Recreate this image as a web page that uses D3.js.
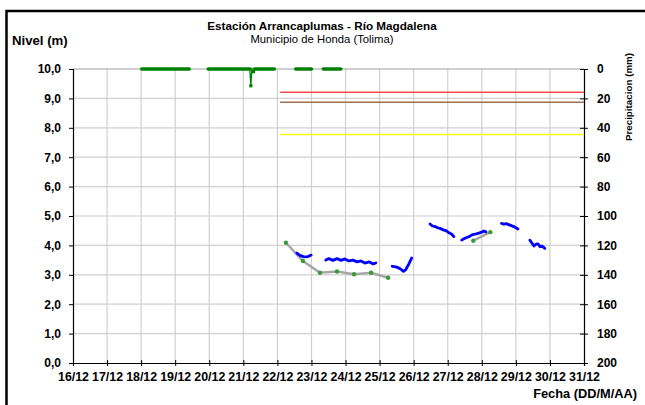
<!DOCTYPE html>
<html>
<head>
<meta charset="utf-8">
<script src="https://cdn.jsdelivr.net/npm/d3@7"></script>
<style>
  body { margin: 0; background: #fff; }
  text { font-family: "Liberation Sans", Arial, sans-serif; fill: #000; }
</style>
</head>
<body>
<div id="chart"></div>
<script>
// Tick values
var dayTicks = [16, 17, 18, 19, 20, 21, 22, 23, 24, 25, 26, 27, 28, 29, 30, 31];
var levelTicks = [0, 1, 2, 3, 4, 5, 6, 7, 8, 9, 10];
var precipTicks = [0, 20, 40, 60, 80, 100, 120, 140, 160, 180, 200];

// Level (m), automatic station: [day of December, level]
var levelSeg1 = [[22.57, 3.74], [22.66, 3.66], [22.78, 3.61], [22.90, 3.62], [22.99, 3.67]];
var levelSeg2 = [[23.42, 3.50], [23.51, 3.55], [23.63, 3.49], [23.75, 3.55], [23.87, 3.49],
                 [23.98, 3.54], [24.10, 3.47], [24.22, 3.50], [24.34, 3.44], [24.45, 3.47],
                 [24.57, 3.40], [24.69, 3.44], [24.81, 3.37], [24.89, 3.40]];
var levelSeg3 = [[25.37, 3.29], [25.48, 3.27], [25.60, 3.21], [25.70, 3.12], [25.77, 3.18],
                 [25.86, 3.37], [25.94, 3.57]];
var levelSeg4 = [[26.48, 4.73], [26.55, 4.66], [26.63, 4.64], [26.70, 4.60], [26.77, 4.58],
                 [26.89, 4.52], [26.95, 4.50], [27.01, 4.45], [27.12, 4.38], [27.18, 4.30]];
var levelSeg5 = [[27.41, 4.18], [27.48, 4.23], [27.54, 4.26], [27.63, 4.30], [27.71, 4.36],
                 [27.80, 4.38], [27.89, 4.41], [27.98, 4.44], [28.06, 4.49], [28.12, 4.46]];
var levelSeg6 = [[28.58, 4.75], [28.65, 4.72], [28.71, 4.74], [28.83, 4.69], [28.94, 4.64],
                 [29.06, 4.56]];
var levelSeg7 = [[29.41, 4.18], [29.47, 4.08], [29.53, 3.98], [29.59, 4.04], [29.65, 4.05],
                 [29.71, 3.96], [29.77, 3.98], [29.85, 3.90]];
var levelSegments = [levelSeg1, levelSeg2, levelSeg3, levelSeg4, levelSeg5, levelSeg6, levelSeg7];

// Level (m), staff readings
var readingSeg1 = [[22.25, 4.09], [22.75, 3.47], [23.25, 3.07], [23.75, 3.11], [24.25, 3.02],
                   [24.75, 3.07], [25.25, 2.90]];
var readingSeg2 = [[27.75, 4.16], [28.25, 4.45]];
var readingSegments = [readingSeg1, readingSeg2];

// Precipitation (mm)
var precipSeg1 = [[18.02, 0], [19.41, 0]];
var precipSeg2 = [[19.97, 0], [21.19, 0], [21.22, 11.4], [21.25, 0], [21.30, 1.8], [21.33, 0], [21.91, 0]];
var precipSeg3 = [[22.54, 0], [23.00, 0]];
var precipSeg4 = [[23.35, 0], [23.86, 0]];
var precipSegments = [precipSeg1, precipSeg2, precipSeg3, precipSeg4];

// Alert thresholds (m)
var thresholdLevels = [9.21, 8.87, 7.77];
var thresholdNames = ["roja", "naranja", "amarilla"];
var thresholdStart = 22.08;

var svgWidth = 645, svgHeight = 405;
var margin = { top: 69, right: 61, bottom: 42, left: 73 };
var chartWidth = svgWidth - margin.left - margin.right;
var chartHeight = svgHeight - margin.top - margin.bottom;

var svg = d3.select("#chart").append("svg")
  .attr("width", svgWidth)
  .attr("height", svgHeight);

// outer frame
svg.append("rect")
  .attr("x", 6.5).attr("y", 11)
  .attr("width", 660).attr("height", 420)
  .attr("fill", "none").attr("stroke", "#000").attr("stroke-width", 2.5);

var chartGroup = svg.append("g")
  .attr("transform", `translate(${margin.left}, ${margin.top})`);

var xScale = d3.scaleLinear().domain([16, 31]).range([0, chartWidth]);
var yScale = d3.scaleLinear().domain([0, 10]).range([chartHeight, 0]);
var pScale = d3.scaleLinear().domain([0, 200]).range([0, chartHeight]);

// grid
chartGroup.append("g").selectAll("line")
  .data(dayTicks.slice(1, -1)).enter().append("line")
  .attr("x1", d => xScale(d)).attr("x2", d => xScale(d))
  .attr("y1", 0).attr("y2", chartHeight)
  .attr("stroke", "#d0d0d0").attr("stroke-width", 1.2);

chartGroup.append("g").selectAll("line")
  .data(levelTicks.slice(1)).enter().append("line")
  .attr("x1", 0).attr("x2", chartWidth)
  .attr("y1", d => yScale(d)).attr("y2", d => yScale(d))
  .attr("stroke", d => d === 10 ? "#a0a0a0" : "#d0d0d0").attr("stroke-width", 1.2);

// axes
var fmtLevel = d => d.toFixed(1).replace(".", ",");

var leftAxis = chartGroup.append("g")
  .call(d3.axisLeft(yScale).tickValues(levelTicks).tickFormat(fmtLevel).tickSize(4).tickPadding(8));

var rightAxis = chartGroup.append("g")
  .attr("transform", `translate(${chartWidth}, 0)`)
  .call(d3.axisRight(pScale).tickValues(precipTicks).tickSize(4).tickPadding(9));
rightAxis.selectAll(".tick line").attr("x1", -4);

var bottomAxis = chartGroup.append("g")
  .attr("transform", `translate(0, ${chartHeight})`)
  .call(d3.axisBottom(xScale).tickValues(dayTicks).tickFormat(d => d + "/12").tickSize(3).tickPadding(6));
bottomAxis.selectAll(".tick line").attr("y1", -3);

[leftAxis, rightAxis, bottomAxis].forEach(function(ax) {
  ax.select(".domain").attr("stroke", "#000").attr("stroke-width", 1.2);
  ax.selectAll(".tick line").attr("stroke", "#000");
  ax.selectAll("text")
    .attr("font-family", "Liberation Sans, Arial, sans-serif")
    .attr("font-weight", "bold")
    .attr("font-size", 12);
});
bottomAxis.selectAll("text").attr("font-size", 12.4);

// threshold lines
var thresholdColor = d3.scaleOrdinal().domain(thresholdNames).range(["#ff4b4b", "#a0704a", "#ffff00"]);
chartGroup.append("g").selectAll("line")
  .data(thresholdLevels).enter().append("line")
  .attr("x1", xScale(thresholdStart)).attr("x2", chartWidth)
  .attr("y1", d => yScale(d)).attr("y2", d => yScale(d))
  .attr("stroke", (d, i) => thresholdColor(thresholdNames[i]))
  .attr("stroke-width", 1.6);

// precipitation: thin line, dense markers look like a thick band along the zero runs
var precipLine = d3.line().x(d => xScale(d[0])).y(d => pScale(d[1]));
var precipG = chartGroup.append("g");

precipG.selectAll("path.p")
  .data(precipSegments).enter().append("path")
  .attr("class", "p")
  .attr("d", precipLine)
  .attr("fill", "none")
  .attr("stroke", "#008000")
  .attr("stroke-width", 1.3);

var zeroRuns = [];
precipSegments.forEach(function(seg) {
  for (var i = 1; i < seg.length; i++) {
    if (seg[i - 1][1] === 0 && seg[i][1] === 0) zeroRuns.push([seg[i - 1], seg[i]]);
  }
});
precipG.selectAll("path.band")
  .data(zeroRuns).enter().append("path")
  .attr("class", "band")
  .attr("d", precipLine)
  .attr("fill", "none")
  .attr("stroke", "#008000")
  .attr("stroke-width", 3.6)
  .attr("stroke-linecap", "round");

precipG.selectAll("rect")
  .data(precipSegments.flat().filter(d => d[1] > 0)).enter().append("rect")
  .attr("x", d => xScale(d[0]) - 1.6)
  .attr("y", d => pScale(d[1]) - 1.6)
  .attr("width", 3.2).attr("height", 3.2)
  .attr("fill", "#008000");

// staff readings
var levelLine = d3.line().x(d => xScale(d[0])).y(d => yScale(d[1]));
chartGroup.append("g").selectAll("path")
  .data(readingSegments).enter().append("path")
  .attr("d", levelLine)
  .attr("fill", "none")
  .attr("stroke", "#a6a6a6")
  .attr("stroke-width", 2.5);

chartGroup.append("g").selectAll("circle")
  .data(readingSegments.flat()).enter().append("circle")
  .attr("cx", d => xScale(d[0]))
  .attr("cy", d => yScale(d[1]))
  .attr("r", 2.2)
  .attr("fill", "#3a9a3a");

// automatic level
chartGroup.append("g").selectAll("path")
  .data(levelSegments).enter().append("path")
  .attr("d", levelLine)
  .attr("fill", "none")
  .attr("stroke", "#0000ff")
  .attr("stroke-width", 2.8)
  .attr("stroke-linejoin", "round")
  .attr("stroke-linecap", "round");

// titles
svg.append("text")
  .attr("x", 322).attr("y", 30)
  .attr("text-anchor", "middle")
  .attr("font-weight", "bold")
  .attr("font-size", 11.7)
  .text("Estación Arrancaplumas - Río Magdalena");

svg.append("text")
  .attr("x", 322).attr("y", 43)
  .attr("text-anchor", "middle")
  .attr("font-size", 11.3)
  .text("Municipio de Honda (Tolima)");

svg.append("text")
  .attr("x", 12).attr("y", 45)
  .attr("font-weight", "bold")
  .attr("font-size", 13.2)
  .text("Nivel (m)");

svg.append("text")
  .attr("transform", "translate(632, 97) rotate(-90)")
  .attr("text-anchor", "middle")
  .attr("font-weight", "bold")
  .attr("font-size", 9.8)
  .text("Precipitacion (mm)");

svg.append("text")
  .attr("x", 637).attr("y", 398)
  .attr("text-anchor", "end")
  .attr("font-weight", "bold")
  .attr("font-size", 12.8)
  .text("Fecha (DD/M/AA)");
</script>
</body>
</html>
